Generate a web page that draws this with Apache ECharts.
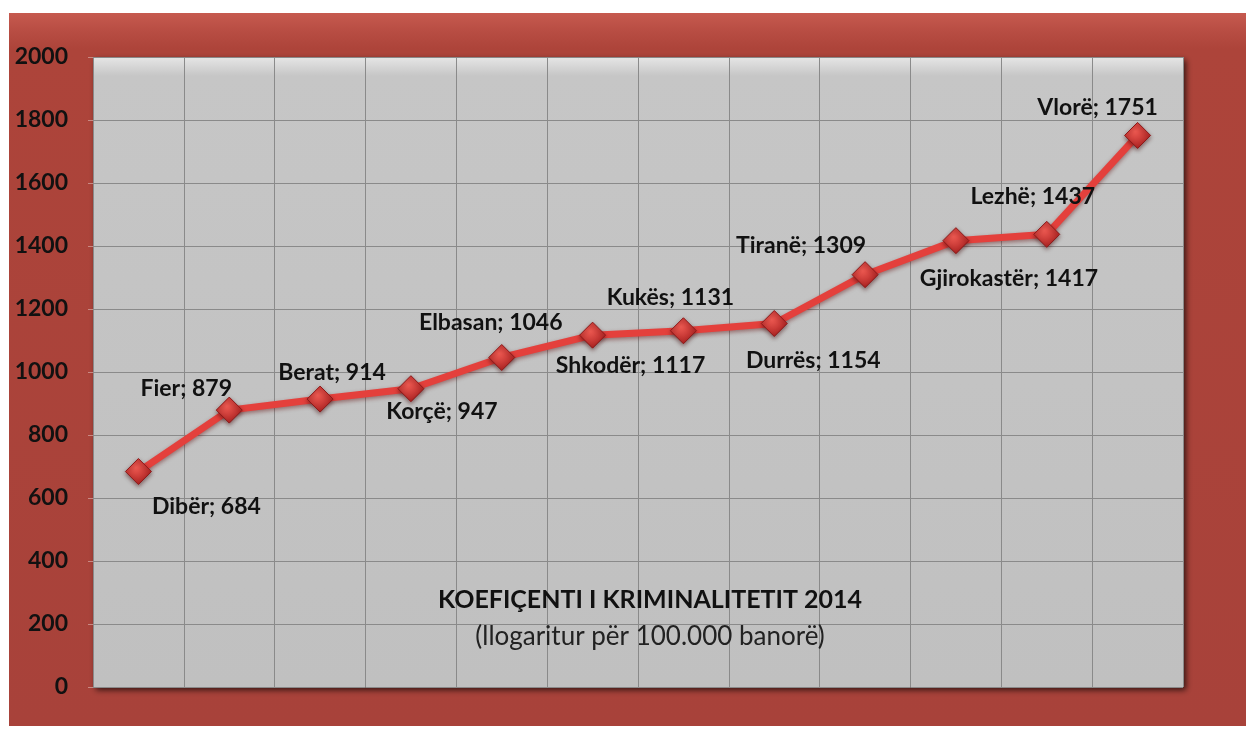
<!DOCTYPE html>
<html>
<head>
    <meta charset="utf-8">
    <title>Koeficenti i kriminalitetit 2014</title>
    <script src="https://cdn.jsdelivr.net/npm/echarts@6/dist/echarts.min.js" type="text/javascript" charset="utf-8"></script>
    <style>
        html, body { margin: 0; padding: 0; background: #fff; }
    </style>
</head>
<body>
<div id="div01" style="width: 1246px;height: 730px;"></div>
</body>
<script type="text/javascript">

    // te dhenat
    var qarqet = ['Dibër', 'Fier', 'Berat', 'Korçë', 'Elbasan', 'Shkodër',
        'Kukës', 'Durrës', 'Tiranë', 'Gjirokastër', 'Lezhë', 'Vlorë'];
    var vlerat = [684, 879, 914, 947, 1046, 1117, 1131, 1154, 1309, 1417, 1437, 1751];
    // zhvendosja e etiketave nga pika [dx, dy]
    var zhvendosjet = [[68, 35], [-43, -22], [12, -27], [31, 23], [-11, -35], [38, 30],
        [-13, -33], [39, 37], [-64, -29], [53, 38], [-14, -38], [-40, -28]];
    var yTicks = [0, 200, 400, 600, 800, 1000, 1200, 1400, 1600, 1800, 2000];

    var fonti = 'Lato, "Open Sans", sans-serif';

    var myChart = echarts.init(document.getElementById("div01"));

    var seriesData = vlerat.map(function (v, i) {
        return {
            value: v,
            label: { offset: zhvendosjet[i] }
        };
    });

    myChart.setOption({
        backgroundColor: '#ffffff',
        animation: false,
        graphic: [{
            type: 'rect',
            z: -10,
            shape: { x: 9, y: 13, width: 1237, height: 713 },
            style: {
                fill: new echarts.graphic.LinearGradient(0, 0, 0, 1, [
                    { offset: 0, color: '#c65a4f' },
                    { offset: 0.025, color: '#b84d43' },
                    { offset: 0.05, color: '#ad443a' },
                    { offset: 1, color: '#a8423a' }
                ])
            }
        }, {
            type: 'text',
            z: 5,
            x: 650,
            y: 600,
            style: {
                text: 'KOEFIÇENTI I KRIMINALITETIT 2014',
                font: 'bold 25px ' + fonti,
                fill: '#111111',
                align: 'center',
                verticalAlign: 'middle'
            }
        }, {
            type: 'text',
            z: 5,
            x: 650,
            y: 637,
            style: {
                text: '(llogaritur për 100.000 banorë)',
                font: '26px ' + fonti,
                fill: '#222222',
                align: 'center',
                verticalAlign: 'middle'
            }
        }],
        grid: {
            left: 93,
            top: 57,
            right: 63,
            bottom: 43,
            show: true,
            borderWidth: 0,
            backgroundColor: new echarts.graphic.LinearGradient(0, 0, 0, 1, [
                { offset: 0, color: '#e6e6e6' },
                { offset: 0.03, color: '#c6c6c6' },
                { offset: 1, color: '#c0c0c0' }
            ]),
            shadowColor: 'rgba(0,0,0,0.7)',
            shadowBlur: 6,
            shadowOffsetX: 3,
            shadowOffsetY: 3
        },
        xAxis: {
            type: 'category',
            data: qarqet,
            boundaryGap: true,
            axisLine: { show: false },
            axisTick: { show: false },
            axisLabel: { show: false },
            splitLine: { show: true, lineStyle: { color: '#8a8a8a', width: 1 } }
        },
        yAxis: {
            type: 'value',
            min: yTicks[0],
            max: yTicks[yTicks.length - 1],
            interval: 200,
            axisLine: { show: false },
            axisTick: { show: true, length: 5, lineStyle: { color: '#c98a84' } },
            axisLabel: {
                margin: 25,
                color: '#111111',
                fontFamily: fonti,
                fontWeight: 'bold',
                fontSize: 23,
                formatter: function (v) { return String(v); }
            },
            splitLine: { show: true, lineStyle: { color: '#8a8a8a', width: 1 } }
        },
        series: [{
            type: 'line',
            data: seriesData,
            symbol: 'diamond',
            symbolSize: 26,
            lineStyle: {
                color: '#e4403c',
                width: 7,
                shadowColor: 'rgba(90,0,0,0.45)',
                shadowBlur: 4,
                shadowOffsetY: 2
            },
            itemStyle: {
                color: new echarts.graphic.RadialGradient(0.4, 0.35, 0.7, [
                    { offset: 0, color: '#ee5a52' },
                    { offset: 1, color: '#a81e1e' }
                ]),
                borderColor: '#8c1818',
                borderWidth: 1,
                shadowColor: 'rgba(60,0,0,0.5)',
                shadowBlur: 4,
                shadowOffsetY: 2
            },
            label: {
                show: true,
                position: 'inside',
                formatter: '{b}; {c}',
                color: '#111111',
                fontFamily: fonti,
                fontWeight: 'bold',
                fontSize: 23
            }
        }]
    });
</script>
</html>
